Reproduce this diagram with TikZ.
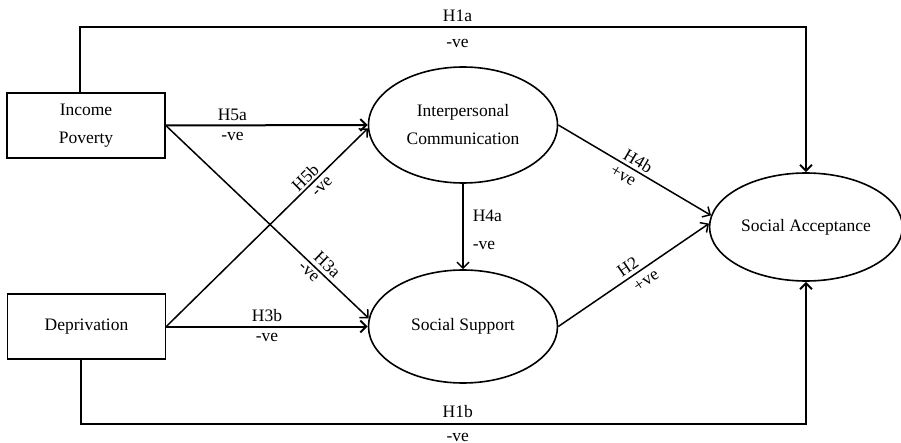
\documentclass[tikz,border=0pt]{standalone}
\usepackage{fontspec}
\setmainfont{Liberation Serif}
\usetikzlibrary{arrows.meta,positioning,shapes.geometric}

\begin{document}
\begin{tikzpicture}[x=1pt,y=1pt,>={Straight Barb[length=6pt,width=12pt]},
  font=\fontsize{17.5}{28}\selectfont,
  box/.style={draw,line width=1.6pt,minimum width=158pt,minimum height=65pt,align=center},
  oval/.style={draw,ellipse,line width=1.6pt,align=center},
  conn/.style={->,line width=1.5pt},
  heavy/.style={->,line width=2pt},
  lbl/.style={inner sep=1pt}]
  \useasboundingbox (0,0) rectangle (901,-443);

  % constructs
  \node[box] (ip) at (86,-125.5) {Income\\Poverty};
  \node[box] (dep) at (86.5,-326.5) {Deprivation};
  \node[oval,minimum width=189pt,minimum height=116pt] (ic) at (463,-125) {Interpersonal\\Communication};
  \node[oval,minimum width=189pt,minimum height=113pt] (ss) at (463,-326.5) {Social Support};
  \node[oval,minimum width=176pt,minimum height=108pt] (sa) at (806,-227) {Social Acceptance};

  % direct effects
  \draw[heavy] ([xshift=-6pt]ip.north) -- ++(0,65) -| (sa.north)
    node[lbl,pos=0.26,above=4pt] {H1a} node[lbl,pos=0.26,below=10pt] {-ve};
  \draw[heavy] ([xshift=-6pt]dep.south) -- ++(0,-64) -| (sa.south)
    node[lbl,pos=0.26,above=4pt] {H1b} node[lbl,pos=0.26,below=7pt] {-ve};

  % paths to mediators
  \draw[heavy] (ip.east) -- (ic.west)
    node[lbl,pos=0.33,above=3pt] {H5a} node[lbl,pos=0.33,below=5pt] {-ve};
  \draw[conn] (ip.east) -- (ss.175)
    node[lbl,pos=0.76,sloped,above=3pt] {H3a} node[lbl,pos=0.73,sloped,below=2pt] {-ve};
  \draw[conn] (dep.east) -- (ic.182)
    node[lbl,pos=0.72,sloped,above=1pt] {H5b} node[lbl,pos=0.74,sloped,below=4pt] {-ve};
  \draw[heavy] (dep.east) -- (ss.west)
    node[lbl,midway,above=3pt] {H3b} node[lbl,midway,below=5pt] {-ve};

  % mediators
  \draw[conn] (ic.south) -- (ss.north)
    node[lbl,pos=0.38,right=8pt] {H4a} node[lbl,pos=0.72,right=8pt] {-ve};
  \draw[conn] (ic.east) -- (sa.173)
    node[lbl,pos=0.49,sloped,above=2pt] {H4b} node[lbl,pos=0.46,sloped,below=4pt] {+ve};
  \draw[conn] (ss.east) -- (sa.178)
    node[lbl,pos=0.5,sloped,above=3pt] {H2} node[lbl,pos=0.54,sloped,below=5pt] {+ve};
\end{tikzpicture}
\end{document}
